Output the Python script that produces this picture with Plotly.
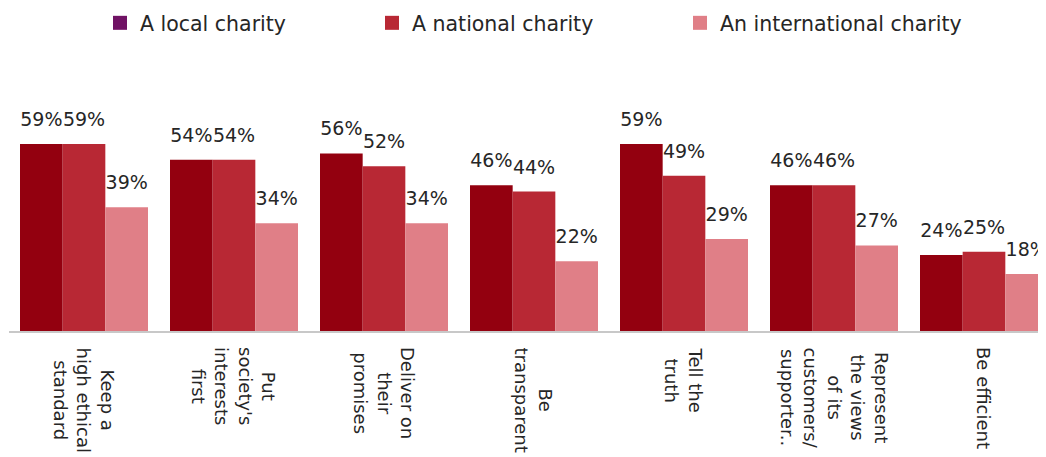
import plotly.graph_objects as go

categories = [
    "Keep a<br>high ethical<br>standard",
    "Put<br>society's<br>interests<br>first",
    "Deliver on<br>their<br>promises",
    "Be<br>transparent",
    "Tell the<br>truth",
    "Represent<br>the views<br>of its<br>customers/<br>supporter..",
    "Be efficient",
]
series_names = ["A local charity", "A national charity", "An international charity"]
local = [59, 54, 56, 46, 59, 46, 24]
national = [59, 54, 52, 44, 49, 46, 25]
international = [39, 34, 34, 22, 29, 27, 18]

bar_colors = ["#93000F", "#B82834", "#E07F87"]
legend_colors = ["#701264", "#B82834", "#E07F87"]

FONT = "DejaVu Sans"
TXT = "#262626"

# page has an 8px body margin; size the figure so it fills the 1046x457 window
W, H = 1038, 449
ML, MT, MB = 1, 72, 126
plot_w = W - ML
plot_h = H - MT - MB
PX_PER_CAT = 150
PX_PER_UNIT = 3.17

fig = go.Figure()
for i, (name, vals) in enumerate(zip(series_names, [local, national, international])):
    fig.add_trace(go.Bar(
        x=categories, y=vals, name=name, showlegend=False,
        marker=dict(color=bar_colors[i], line=dict(width=0)),
        texttemplate="<span style='font-size:19px'>%{y}%</span><br>\u00a0",
        textposition="outside", cliponaxis=False, constraintext="none",
        textfont=dict(family=FONT, size=10, color=TXT),
    ))

legend_names = ["legend", "legend2", "legend3"]
legend_px = [92, 364, 672]
for i, name in enumerate(series_names):
    fig.add_trace(go.Scatter(
        x=[None], y=[None], mode="markers", name=name,
        marker=dict(symbol="square", size=14, color=legend_colors[i]),
        legend=legend_names[i], showlegend=True,
    ))

layout_legends = {}
for i, ln in enumerate(legend_names):
    layout_legends[ln] = dict(
        x=(legend_px[i] - ML) / plot_w, xanchor="left",
        y=(H - MB - 15) / plot_h, yanchor="middle",
        orientation="h", font=dict(family=FONT, size=20.5, color=TXT),
        bgcolor="rgba(0,0,0,0)", borderwidth=0,
    )

annotations = [
    dict(x=c, y=-14 / plot_h, xref="x", yref="paper", text=c, textangle=90,
         showarrow=False, xanchor="center", yanchor="top", align="center",
         font=dict(family=FONT, size=18, color=TXT))
    for c in categories
]

fig.update_layout(
    width=W, height=H,
    margin=dict(l=ML, r=0, t=MT, b=MB, autoexpand=False),
    paper_bgcolor="white", plot_bgcolor="white",
    barmode="group", bargap=22 / PX_PER_CAT, bargroupgap=0,
    font=dict(family=FONT, color=TXT),
    annotations=annotations,
    **layout_legends,
)
fig.update_xaxes(
    range=[-0.5, -0.5 + plot_w / PX_PER_CAT], showline=True, linecolor="#C8C8C8", linewidth=2,
    showticklabels=False, ticks="", showgrid=False,
)
fig.update_yaxes(range=[0, plot_h / PX_PER_UNIT], visible=False, showgrid=False)

fig.write_html("out.html")
